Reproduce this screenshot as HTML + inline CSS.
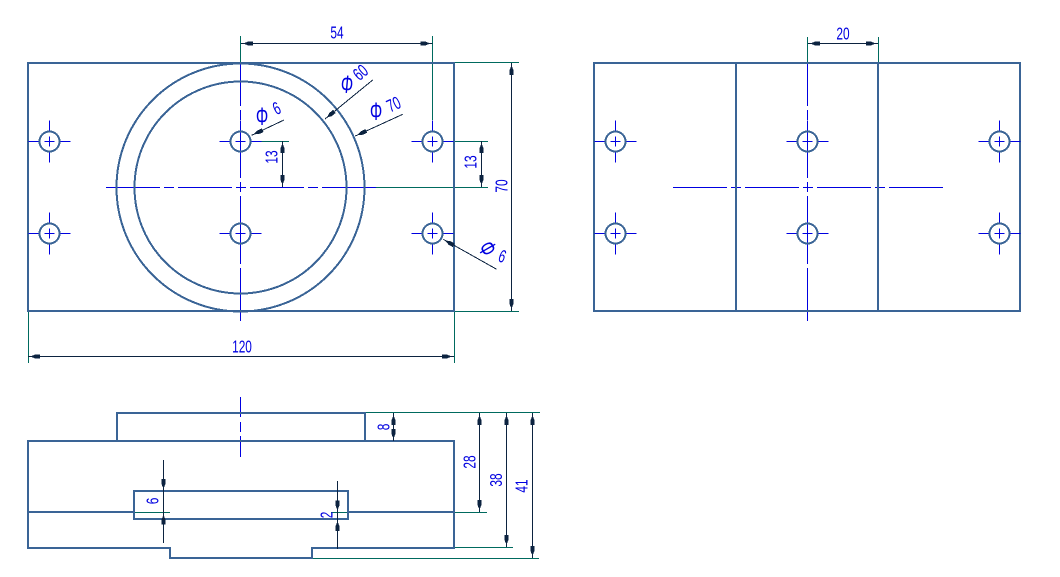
<!DOCTYPE html>
<html>
<head>
<meta charset="utf-8">
<style>
html,body{margin:0;padding:0;background:#fff;width:1060px;height:577px;overflow:hidden}
svg{display:block;shape-rendering:crispEdges}
.b{stroke:#3a6496;stroke-width:2;fill:none}
.c{stroke:#0000e0;stroke-width:1;fill:none}
.t{stroke:#006a5e;stroke-width:1;fill:none}
.d{stroke:#0c2340;stroke-width:1;fill:none}
.h{fill:#0c2340;stroke:none}
text{font-family:"Liberation Sans",sans-serif;fill:#0000e0;font-size:18px;text-anchor:middle;dominant-baseline:central}
.p{font-size:25px}
</style>
</head>
<body>
<svg width="1060" height="577" viewBox="0 0 1060 577" xmlns="http://www.w3.org/2000/svg">
<defs>
<g id="hole">
<path class="c" d="M-21 0H-11M-5 0H5M11 0H21M0 -21V-11M0 -5V5M0 11V21"/>
<circle class="b" r="10"/>
</g>
<polygon id="ar" class="h" points="0,0 -.7,-4 -2,-7 -2,-12 2,-12 2,-7 .7,-4"/>
</defs>

<!-- extension lines -->
<path class="t" d="M240.5 36V63M432.500 36V120M454 62.500H519M454 311.500H519M454 141.500H488M366 187.500H488M250 141.500H289M28.500 311V363M454.500 311V363M807.500 37V63M878.500 37V63"/>
<path class="t" d="M365 412.500H540M454 512.500H487M454 547.500H513M312 558.500H539M331 512.500H348M134 512.500H170"/>

<!-- centre lines front view -->
<path class="c" d="M106 187.500H160M164 187.500H174M178 187.500H232M236 187.500H246M250 187.500H304M308 187.500H318M322 187.500H376"/>
<path class="c" d="M240.500 63V106M240.500 110V120M240.500 124V178M240.500 182V192M240.500 196V250M240.500 254V264M240.500 268V321"/>
<!-- centre lines side view -->
<path class="c" d="M673 187.500H727M731 187.500H741M745 187.500H799M803 187.500H813M817 187.500H871M875 187.500H885M889 187.500H943"/>
<path class="c" d="M807.500 63V106M807.500 110V120M807.500 124V178M807.500 182V192M807.500 196V250M807.500 254V264M807.500 268V321"/>
<!-- centre line bottom view -->
<path class="c" d="M240.500 397V417M240.500 422V432M240.500 436V457"/>

<!-- front view -->
<rect class="b" x="28" y="63" width="426" height="248"/>
<circle class="b" cx="240.500" cy="187.500" r="124"/>
<circle class="b" cx="240.500" cy="187.500" r="106"/>
<use href="#hole" x="49.500" y="141.500"/>
<use href="#hole" x="240.500" y="141.500"/>
<use href="#hole" x="432.500" y="141.500"/>
<use href="#hole" x="49.500" y="233.500"/>
<use href="#hole" x="240.500" y="233.500"/>
<use href="#hole" x="432.500" y="233.500"/>

<!-- side view -->
<rect class="b" x="594" y="63" width="426" height="248"/>
<path class="b" d="M736 63V311M878 63V311"/>
<use href="#hole" x="615.500" y="141.500"/>
<use href="#hole" x="807.500" y="141.500"/>
<use href="#hole" x="999.500" y="141.500"/>
<use href="#hole" x="615.500" y="233.500"/>
<use href="#hole" x="807.500" y="233.500"/>
<use href="#hole" x="999.500" y="233.500"/>

<!-- bottom view -->
<path class="b" d="M28 441H454V548H312V558H170V548H28ZM117 441V413H365V441M28 512H134M348 512H454"/>
<rect class="b" x="134" y="491" width="214" height="28"/>

<!-- dimensions -->
<path class="d" d="M241 43.500H432.500M808 43.500H878M511.500 63V311M481.500 141V187M282.500 141V187M28 356.500H454"/>
<use href="#ar" transform="translate(241 43.500) rotate(90)"/>
<use href="#ar" transform="translate(432.500 43.500) rotate(-90)"/>
<use href="#ar" transform="translate(808 43.500) rotate(90)"/>
<use href="#ar" transform="translate(878 43.500) rotate(-90)"/>
<use href="#ar" transform="translate(511.500 63) rotate(180)"/>
<use href="#ar" transform="translate(511.500 311)"/>
<use href="#ar" transform="translate(481.500 141) rotate(180)"/>
<use href="#ar" transform="translate(481.500 187)"/>
<use href="#ar" transform="translate(282.500 141) rotate(180)"/>
<use href="#ar" transform="translate(282.500 187)"/>
<use href="#ar" transform="translate(28 356.500) rotate(90)"/>
<use href="#ar" transform="translate(454 356.500) rotate(-90)"/>

<path class="d" d="M251.700 135.300L284 120M325 119L372.700 80M355.300 136L402.700 114.300M443.300 239.300L496.700 269.300"/>
<use href="#ar" transform="translate(251.700 135.300) rotate(65)"/>
<use href="#ar" transform="translate(325 119) rotate(51)"/>
<use href="#ar" transform="translate(355.300 136) rotate(65)"/>
<use href="#ar" transform="translate(443.300 239.300) rotate(120)"/>

<path class="d" d="M393.500 413V441M479.500 413V512M506.500 413V547M532.500 413V558M337.500 481V549M163.500 460V543"/>
<use href="#ar" transform="translate(393.500 413) rotate(180)"/>
<use href="#ar" transform="translate(393.500 441)"/>
<use href="#ar" transform="translate(479.500 413) rotate(180)"/>
<use href="#ar" transform="translate(479.500 512)"/>
<use href="#ar" transform="translate(506.500 413) rotate(180)"/>
<use href="#ar" transform="translate(506.500 547)"/>
<use href="#ar" transform="translate(532.500 413) rotate(180)"/>
<use href="#ar" transform="translate(532.500 558)"/>
<use href="#ar" transform="translate(337.500 512.500)"/>
<use href="#ar" transform="translate(337.500 519) rotate(180)"/>
<use href="#ar" transform="translate(163.500 491)"/>
<use href="#ar" transform="translate(163.500 512.500) rotate(180)"/>

<!-- text -->
<text transform="translate(337 33) scale(.66 1)">54</text>
<text transform="translate(843 34) scale(.66 1)">20</text>
<text transform="translate(242 347) scale(.66 1)">120</text>
<text transform="translate(502 186) rotate(-90) scale(.66 1)">70</text>
<text transform="translate(471 162) rotate(-90) scale(.66 1)">13</text>
<text transform="translate(272 157) rotate(-90) scale(.66 1)">13</text>
<text transform="translate(384 427) rotate(-90) scale(.66 1)">8</text>
<text transform="translate(470 462) rotate(-90) scale(.66 1)">28</text>
<text transform="translate(496.500 480) rotate(-90) scale(.66 1)">38</text>
<text transform="translate(522 486) rotate(-90) scale(.66 1)">41</text>
<text transform="translate(327 515) rotate(-90) scale(.66 1)">2</text>
<text transform="translate(153 501) rotate(-90) scale(.66 1)">6</text>

<text class="p" transform="translate(262 117) scale(.62 1)">&#934;</text>
<text transform="translate(277 109) rotate(-25) scale(.66 1)">6</text>
<text class="p" transform="translate(347 85) rotate(5) scale(.62 1)">&#934;</text>
<text transform="translate(361 73) rotate(-40) scale(.66 1)">60</text>
<text class="p" transform="translate(376 112) scale(.62 1)">&#934;</text>
<text transform="translate(394 105) rotate(-25) scale(.66 1)">70</text>
<text class="p" transform="translate(487 249) rotate(60) scale(.62 1)">&#934;</text>
<text transform="translate(502 257) rotate(20) scale(.66 1)">6</text>
</svg>
</body>
</html>
